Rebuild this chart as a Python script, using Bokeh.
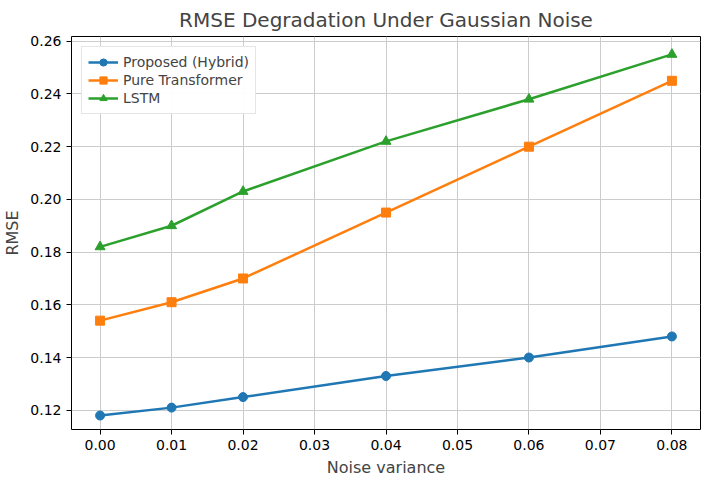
from bokeh.plotting import figure
from bokeh.embed import file_html
from bokeh.resources import INLINE
from bokeh.models import Range1d, FixedTicker, Legend, LegendItem, NumeralTickFormatter

noise = [0.00, 0.01, 0.02, 0.04, 0.06, 0.08]
hybrid = [0.118, 0.121, 0.125, 0.133, 0.140, 0.148]
transformer = [0.154, 0.161, 0.170, 0.195, 0.220, 0.245]
lstm = [0.182, 0.190, 0.203, 0.222, 0.238, 0.255]
xticks = [0.00, 0.01, 0.02, 0.03, 0.04, 0.05, 0.06, 0.07, 0.08]
yticks = [0.12, 0.14, 0.16, 0.18, 0.20, 0.22, 0.24, 0.26]

p = figure(width=706, height=486, output_backend="svg", toolbar_location=None,
           x_range=Range1d(-0.004, 0.084), y_range=Range1d(0.1127, 0.2618),
           min_border_left=70, min_border_right=6, min_border_top=20, min_border_bottom=57)
p.title.text = "RMSE Degradation Under Gaussian Noise"
p.title.align = "center"
p.title.text_font = "DejaVu Sans"
p.title.text_font_size = "20px"
p.title.text_font_style = "normal"
p.outline_line_color = "black"
for ax in (p.xaxis, p.yaxis):
    ax.axis_label_text_font = "DejaVu Sans"
    ax.axis_label_text_font_size = "16px"
    ax.axis_label_text_font_style = "normal"
    ax.major_label_text_font = "DejaVu Sans"
    ax.major_label_text_font_size = "14px"
    ax.major_label_text_color = "black"
    ax.minor_tick_line_color = None
    ax.major_tick_out = 5
    ax.major_tick_in = 0
    ax.axis_line_color = None
p.xaxis.axis_label = "Noise variance"
p.yaxis.axis_label = "RMSE"
p.xaxis.ticker = FixedTicker(ticks=xticks)
p.yaxis.ticker = FixedTicker(ticks=yticks)
p.xaxis.formatter = NumeralTickFormatter(format="0.00")
p.yaxis.formatter = NumeralTickFormatter(format="0.00")
p.grid.grid_line_color = "#cccccc"
p.grid.grid_line_width = 1

r1 = p.line(noise, hybrid, color="#1f77b4", line_width=2.5)
s1 = p.scatter(noise, hybrid, color="#1f77b4", size=9, marker="circle")
r2 = p.line(noise, transformer, color="#ff7f0e", line_width=2.5)
s2 = p.scatter(noise, transformer, color="#ff7f0e", size=9, marker="square")
r3 = p.line(noise, lstm, color="#2ca02c", line_width=2.5)
s3 = p.scatter(noise, lstm, color="#2ca02c", size=10, marker="triangle")

leg = Legend(items=[LegendItem(label="Proposed (Hybrid)", renderers=[r1, s1]),
                    LegendItem(label="Pure Transformer", renderers=[r2, s2]),
                    LegendItem(label="LSTM", renderers=[r3, s3])],
             location="top_left")
leg.label_text_font = "DejaVu Sans"
leg.label_text_font_size = "14px"
leg.border_line_color = "#cccccc"
leg.spacing = 0
leg.padding = 6
leg.glyph_width = 30
leg.label_height = 18
leg.glyph_height = 18
p.add_layout(leg)

open("out.html", "w").write(file_html(p, INLINE))
